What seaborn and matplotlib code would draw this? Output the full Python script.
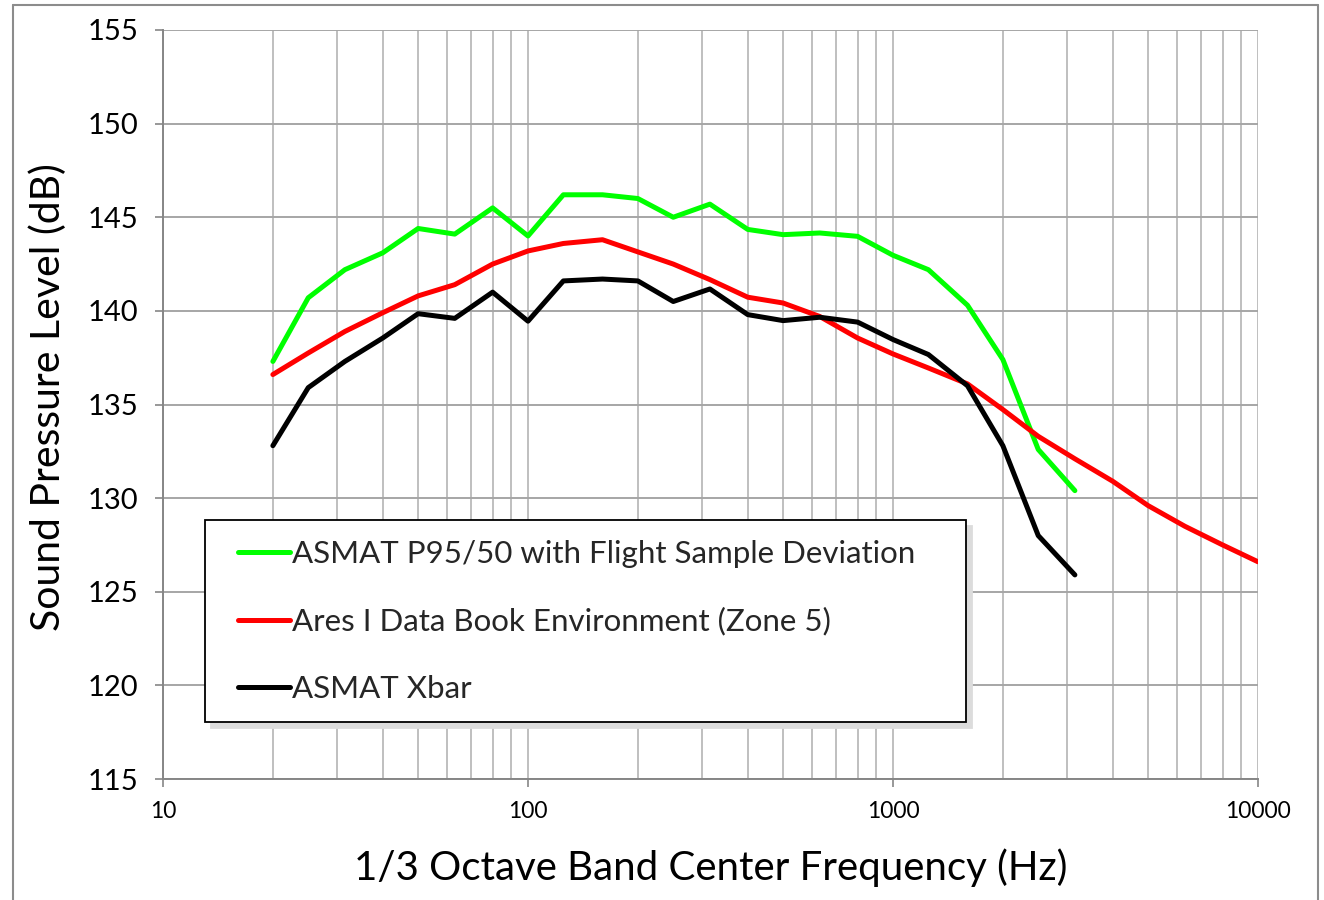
import matplotlib
matplotlib.use("Agg")
import matplotlib.pyplot as plt
import matplotlib.ticker as mticker
from matplotlib.lines import Line2D
from matplotlib.legend_handler import HandlerLine2D
import numpy as np
import seaborn as sns
import pandas as pd

# ---- data ----
freq_asmat = [20, 25, 31.5, 40, 50, 63, 80, 100, 125, 160, 200, 250, 315, 400, 500,
              630, 800, 1000, 1250, 1600, 2000, 2500, 3150]
freq_ares = freq_asmat + [4000, 5000, 6300, 8000, 10000]

p95_50 = [137.3, 140.7, 142.2, 143.1, 144.4, 144.1, 145.5, 144.0, 146.2, 146.2, 146.0,
          145.0, 145.7, 144.35, 144.07, 144.16, 143.98, 142.97, 142.2, 140.3, 137.4,
          132.6, 130.4]
ares_zone5 = [136.6, 137.75, 138.9, 139.9, 140.8, 141.4, 142.5, 143.2, 143.6, 143.8,
              143.15, 142.5, 141.67, 140.73, 140.42, 139.7, 138.55, 137.7, 136.95, 136.1,
              134.73, 133.3, 132.1, 130.9, 129.6, 128.5, 127.5, 126.6]
xbar = [132.8, 135.9, 137.3, 138.55, 139.85, 139.6, 141.0, 139.45, 141.6, 141.7, 141.6,
        140.5, 141.17, 139.8, 139.48, 139.66, 139.4, 138.47, 137.67, 136.0, 132.8,
        128.0, 125.9]

series_names = ["ASMAT P95/50 with Flight Sample Deviation",
                "Ares I Data Book Environment (Zone 5)",
                "ASMAT Xbar"]
series_colors = ["#00FF00", "#FF0000", "#000000"]

x_ticks = [10, 100, 1000, 10000]
y_ticks = [115, 120, 125, 130, 135, 140, 145, 150, 155]

df = pd.concat([
    pd.DataFrame({"freq": freq_asmat, "spl": p95_50, "series": series_names[0]}),
    pd.DataFrame({"freq": freq_ares, "spl": ares_zone5, "series": series_names[1]}),
    pd.DataFrame({"freq": freq_asmat, "spl": xbar, "series": series_names[2]}),
])

# ---- style ----
sns.set_theme(style="white")
plt.rcParams["font.family"] = ["Lato", "DejaVu Sans"]

fig = plt.figure(figsize=(13.24, 9.0), dpi=100)
ax = fig.add_axes([163 / 1324, 1 - 779 / 900, (1258 - 163) / 1324, (779 - 30) / 900])

sns.lineplot(data=df, x="freq", y="spl", hue="series", hue_order=series_names,
             palette=series_colors, linewidth=3.6, ax=ax, legend=False,
             sort=True, estimator=None)
for ln in ax.get_lines():
    ln.set_solid_capstyle("round")
    ln.set_solid_joinstyle("round")

ax.set_xscale("log")
ax.set_xlim(10, 10000)
ax.set_ylim(115, 155)
ax.set_yticks(y_ticks)
ax.set_xticks(x_ticks)
ax.xaxis.set_major_formatter(mticker.FuncFormatter(lambda v, p: f"{int(round(v))}"))
ax.xaxis.set_minor_locator(mticker.LogLocator(base=10, subs=range(2, 10)))
ax.xaxis.set_minor_formatter(mticker.NullFormatter())

# grid
ax.grid(False)
ax.set_axisbelow(True)
ax.xaxis.grid(True, which="both", color="#BFBFBF", linewidth=1.4)
ax.yaxis.grid(True, which="major", color="#A6A6A6", linewidth=1.4)

for s in ["top", "right"]:
    ax.spines[s].set_visible(False)
for s in ["left", "bottom"]:
    ax.spines[s].set_color("#868686")
    ax.spines[s].set_linewidth(1.4)

ax.tick_params(axis="y", which="major", direction="out", length=6, width=1.2,
               color="#868686", labelsize=21, pad=12, left=True)
ax.tick_params(axis="x", which="major", direction="out", length=6, width=1.2,
               color="#868686", labelsize=16.5, pad=10, bottom=True)
ax.tick_params(axis="x", which="minor", length=0)
for lab in ax.get_xticklabels() + ax.get_yticklabels():
    lab.set_color("black")

ax.set_xlabel("1/3 Octave Band Center Frequency (Hz)", fontsize=29, labelpad=19, color="black")
ax.set_ylabel("Sound Pressure Level (dB)", fontsize=29.5, color="black")
ax.yaxis.set_label_coords((67 - 163) / 1095, (779 - 397) / 749)


# legend handler: line occupies right part of the handle box
class OffsetLineHandler(HandlerLine2D):
    def get_xdata(self, legend, xdescent, ydescent, width, height, fontsize):
        xd = np.array([-xdescent + 0.21 * width, -xdescent + width])
        return xd, xd


handles = [Line2D([0], [0], color=c, linewidth=3.6) for c in series_colors]
leg = ax.legend(handles, series_names, loc="lower left",
                bbox_to_anchor=((205 - 163) / 1095, (779 - 722) / 749,
                                (966 - 205) / 1095, (722 - 517) / 749),
                mode="expand", fontsize=22.5, frameon=True, fancybox=False,
                edgecolor="black", framealpha=1, borderpad=0.62, labelspacing=1.25,
                handlelength=2.11, handletextpad=0.05, borderaxespad=0,
                handler_map={Line2D: OffsetLineHandler()},
                shadow={"color": "#DCDCDC", "alpha": 1.0, "ox": 4, "oy": -4})
leg.get_frame().set_linewidth(1.3)

# outer chart border
for xy in [((13 / 1324, 13 / 1324), (1 - 5 / 900, -0.1)),
           ((13 / 1324, 1318 / 1324), (1 - 5 / 900, 1 - 5 / 900)),
           ((1318 / 1324, 1318 / 1324), (1 - 5 / 900, -0.1))]:
    fig.add_artist(Line2D(xy[0], xy[1], color="#8C8C8C", linewidth=1.5,
                          transform=fig.transFigure))

fig.savefig("out.png", dpi=100)
